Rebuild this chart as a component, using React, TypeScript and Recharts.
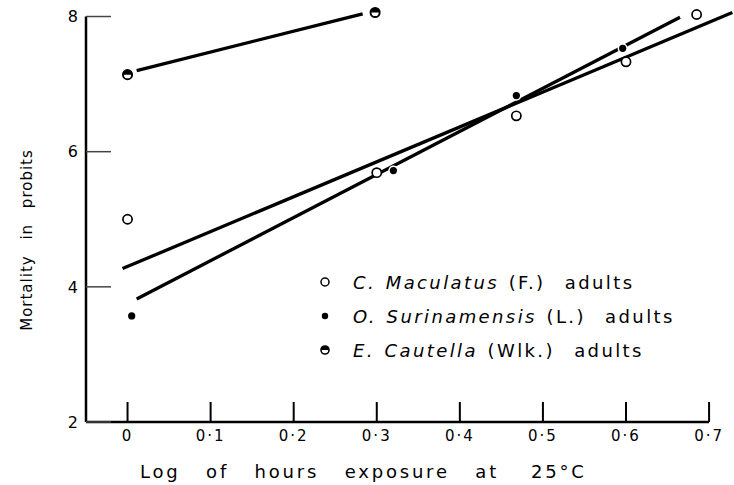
import {
  ComposedChart,
  Line,
  Scatter,
  XAxis,
  YAxis,
  ReferenceLine,
  Legend,
  Label,
} from "recharts";

// observed points (log hours, probit)
const maculatusPts = [
  { x: 0, y: 5.0 },
  { x: 0.3, y: 5.69 },
  { x: 0.468, y: 6.53 },
  { x: 0.6, y: 7.33 },
  { x: 0.685, y: 8.03 },
];
const surinamensisPts = [
  { x: 0.005, y: 3.57 },
  { x: 0.32, y: 5.72 },
  { x: 0.468, y: 6.83 },
  { x: 0.596, y: 7.53 },
];
const cautellaPts = [
  { x: 0, y: 7.14 },
  { x: 0.298, y: 8.06 },
];

// fitted regression lines (end points)
const maculatusFit = [
  { x: -0.006, y: 4.27 },
  { x: 0.728, y: 8.06 },
];
const surinamensisFit = [
  { x: 0.011, y: 3.82 },
  { x: 0.665, y: 7.99 },
];
const cautellaFit = [
  { x: 0.011, y: 7.2 },
  { x: 0.283, y: 8.04 },
];

const xTicks = [0, 0.1, 0.2, 0.3, 0.4, 0.5, 0.6, 0.7];
const yTicks = [2, 4, 6, 8];

const legendItems = [
  { genus: "C. Maculatus", author: "(F.)", kind: "open" },
  { genus: "O. Surinamensis", author: "(L.)", kind: "filled" },
  { genus: "E. Cautella", author: "(Wlk.)", kind: "half" },
];

const FONT = "'DejaVu Sans', sans-serif";

function OpenDot(props: any) {
  const { cx, cy } = props;
  return <circle cx={cx} cy={cy} r={4.6} fill="#fff" stroke="#000" strokeWidth={1.7} />;
}

// white halo breaks the fitted line around the point, as in the print
function FilledDot(props: any) {
  const { cx, cy } = props;
  return <circle cx={cx} cy={cy} r={3.6} fill="#000" stroke="#fff" strokeWidth={3} paintOrder="stroke" />;
}

function HalfDot(props: any) {
  const { cx, cy } = props;
  const r = 4.6;
  return (
    <g>
      <circle cx={cx} cy={cy} r={r} fill="#fff" stroke="#000" strokeWidth={1.9} />
      <path d={`M ${cx - r} ${cy} A ${r} ${r} 0 0 1 ${cx + r} ${cy} Z`} fill="#000" />
    </g>
  );
}

function LegendMarker({ kind }: { kind: string }) {
  return (
    <svg width={14} height={14} style={{ marginRight: 21, flexShrink: 0 }}>
      {kind === "open" && <circle cx={7} cy={7} r={4} fill="#fff" stroke="#000" strokeWidth={1.5} />}
      {kind === "filled" && <circle cx={7} cy={7} r={3.2} fill="#000" />}
      {kind === "half" && (
        <g>
          <circle cx={7} cy={7} r={4} fill="#fff" stroke="#000" strokeWidth={1.6} />
          <path d="M 3 7 A 4 4 0 0 1 11 7 Z" fill="#000" />
        </g>
      )}
    </svg>
  );
}

function SpeciesLegend() {
  return (
    <div style={{ fontFamily: FONT, fontSize: 18, color: "#000", letterSpacing: 2.4, wordSpacing: 1.5 }}>
      {legendItems.map((item) => (
        <div
          key={item.genus}
          style={{ display: "flex", alignItems: "center", height: 34, whiteSpace: "pre" }}
        >
          <LegendMarker kind={item.kind} />
          <span style={{ fontStyle: "italic" }}>{item.genus}</span>
          <span>{" " + item.author + "  adults"}</span>
        </div>
      ))}
    </div>
  );
}

const fmtX = (v: number) => (v === 0 ? "0" : "0·" + Math.round(v * 10));

export default function App() {
  return (
    <div style={{ position: "absolute", left: 0, top: 0, background: "#fff" }}>
      <ComposedChart
        width={734}
        height={485}
        margin={{ top: 3, right: 0, bottom: 0, left: 0 }}
      >
        <XAxis
          dataKey="x"
          type="number"
          domain={[-0.05, 0.73]}
          ticks={xTicks}
          tickFormatter={fmtX}
          axisLine={false}
          tickSize={-20}
          tickMargin={28}
          tickLine={{ stroke: "#000", strokeWidth: 2 }}
          tick={{ fill: "#000", fontSize: 15, fontFamily: FONT, letterSpacing: 2 }}
          height={63}
          interval={0}
          allowDataOverflow
        >
          <Label
            content={() => (
              <text
                x={140}
                y={478}
                fontFamily={FONT}
                fontSize={18}
                letterSpacing={2.8}
                wordSpacing={17}
                fill="#000"
              >
                Log of hours exposure at
                <tspan dx={32}>25°C</tspan>
              </text>
            )}
          />
        </XAxis>
        <YAxis
          dataKey="y"
          type="number"
          domain={[2, 8.2]}
          ticks={yTicks}
          axisLine={false}
          tickSize={-25}
          tickMargin={33}
          tickLine={{ stroke: "#444", strokeWidth: 1.5 }}
          tick={{ fill: "#000", fontSize: 16, fontFamily: FONT }}
          width={86}
          interval={0}
          allowDataOverflow
        >
          <Label
            content={() => (
              <text
                transform="translate(32,240) rotate(-90)"
                textAnchor="middle"
                fontFamily={FONT}
                fontSize={15}
                letterSpacing={1}
                wordSpacing={10}
                fill="#000"
              >
                Mortality in probits
              </text>
            )}
          />
        </YAxis>
        <ReferenceLine
          segment={[
            { x: -0.05, y: 2 },
            { x: 0.7, y: 2 },
          ]}
          stroke="#000"
          strokeWidth={2.5}
        />
        <ReferenceLine
          segment={[
            { x: -0.05, y: 2 },
            { x: -0.05, y: 8 },
          ]}
          stroke="#000"
          strokeWidth={2.5}
        />
        <Line
          data={maculatusFit}
          dataKey="y"
          stroke="#000"
          strokeWidth={3.3}
          dot={false}
          isAnimationActive={false}
        />
        <Line
          data={surinamensisFit}
          dataKey="y"
          stroke="#000"
          strokeWidth={3.3}
          dot={false}
          isAnimationActive={false}
        />
        <Line
          data={cautellaFit}
          dataKey="y"
          stroke="#000"
          strokeWidth={3.3}
          dot={false}
          isAnimationActive={false}
        />
        <Scatter data={maculatusPts} shape={OpenDot} isAnimationActive={false} />
        <Scatter data={surinamensisPts} shape={FilledDot} isAnimationActive={false} />
        <Scatter data={cautellaPts} shape={HalfDot} isAnimationActive={false} />
        <Legend
          content={() => <SpeciesLegend />}
          layout="vertical"
          verticalAlign="middle"
          align="center"
          wrapperStyle={{ left: 318, top: 265, width: 410 }}
        />
      </ComposedChart>
    </div>
  );
}
